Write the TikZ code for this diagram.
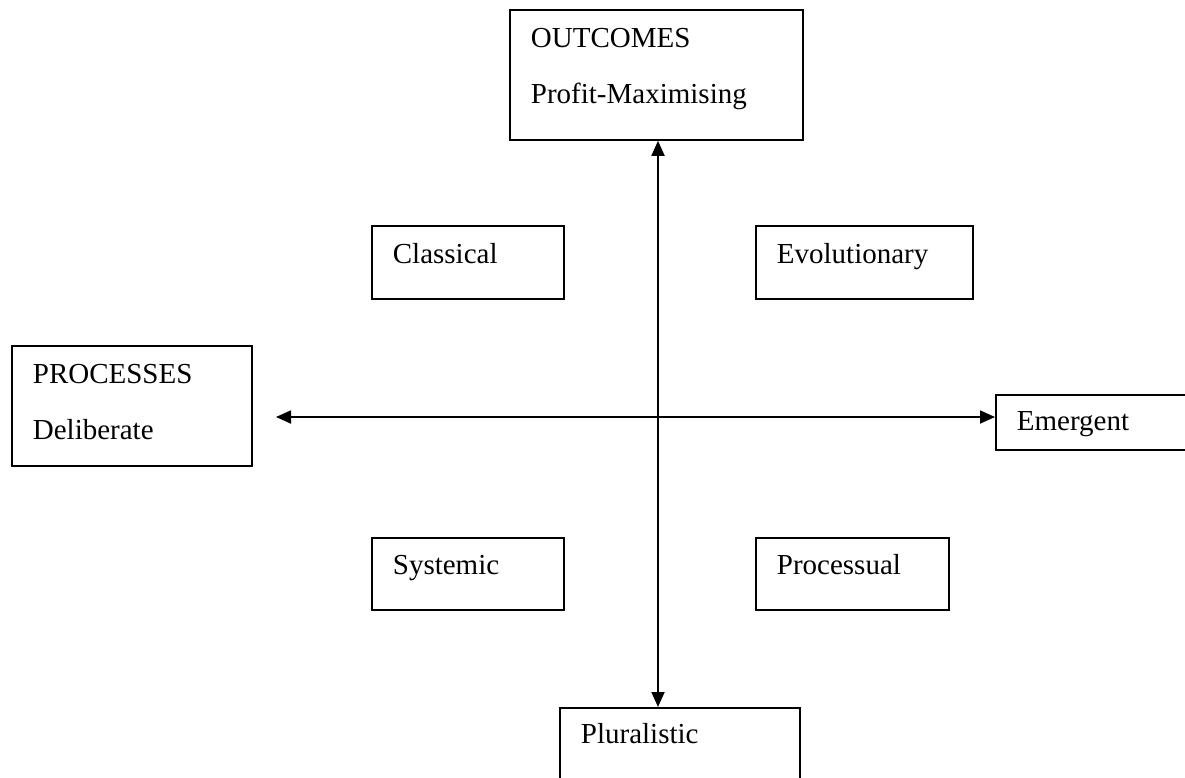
\documentclass[tikz,border=0pt]{standalone}
\usepackage{fontspec}
\setmainfont{Liberation Serif}
\usetikzlibrary{arrows.meta}

\begin{document}
\begin{tikzpicture}[x=1pt,y=-1pt,
	box/.style={draw,line width=1.8pt,anchor=north west,inner xsep=21pt,inner ysep=0pt,align=left,font=\fontsize{29}{56}\selectfont},
	axis/.style={line width=1.8pt,{Triangle[length=15pt,width=13pt]}-{Triangle[length=15pt,width=13pt]}}]
	\useasboundingbox (0,0) rectangle (1185,778);
	% the two ends of each axis
	\node[box,text width=251pt,text height=38pt,text depth=92pt] (outcomes) at (509,9) {OUTCOMES\\Profit-Maximising};
	\node[box,text width=198pt,text height=36pt,text depth=80pt] (pluralistic) at (559,707) {Pluralistic};
	\node[box,text width=198pt,text height=38pt,text depth=82pt] (processes) at (11,345) {PROCESSES\\Deliberate};
	\node[box,text width=163pt,text height=36pt,text depth=19pt] (emergent) at (995,394) {Emergent};
	% the four quadrants
	\node[box,text width=150pt,text height=38pt,text depth=35pt] (classical) at (371,225) {Classical};
	\node[box,text width=175pt,text height=38pt,text depth=35pt] (evolutionary) at (755,225) {Evolutionary};
	\node[box,text width=150pt,text height=37pt,text depth=35pt] (systemic) at (371,537) {Systemic};
	\node[box,text width=151pt,text height=37pt,text depth=35pt] (processual) at (755,537) {Processual};
	% axes
	\coordinate (centre) at (658,417);
	\coordinate (leftend) at (276,417);
	\draw[axis] (outcomes.south -| centre) -- (pluralistic.north -| centre);
	\draw[axis] (leftend) -- (emergent.west |- centre);
\end{tikzpicture}
\end{document}
